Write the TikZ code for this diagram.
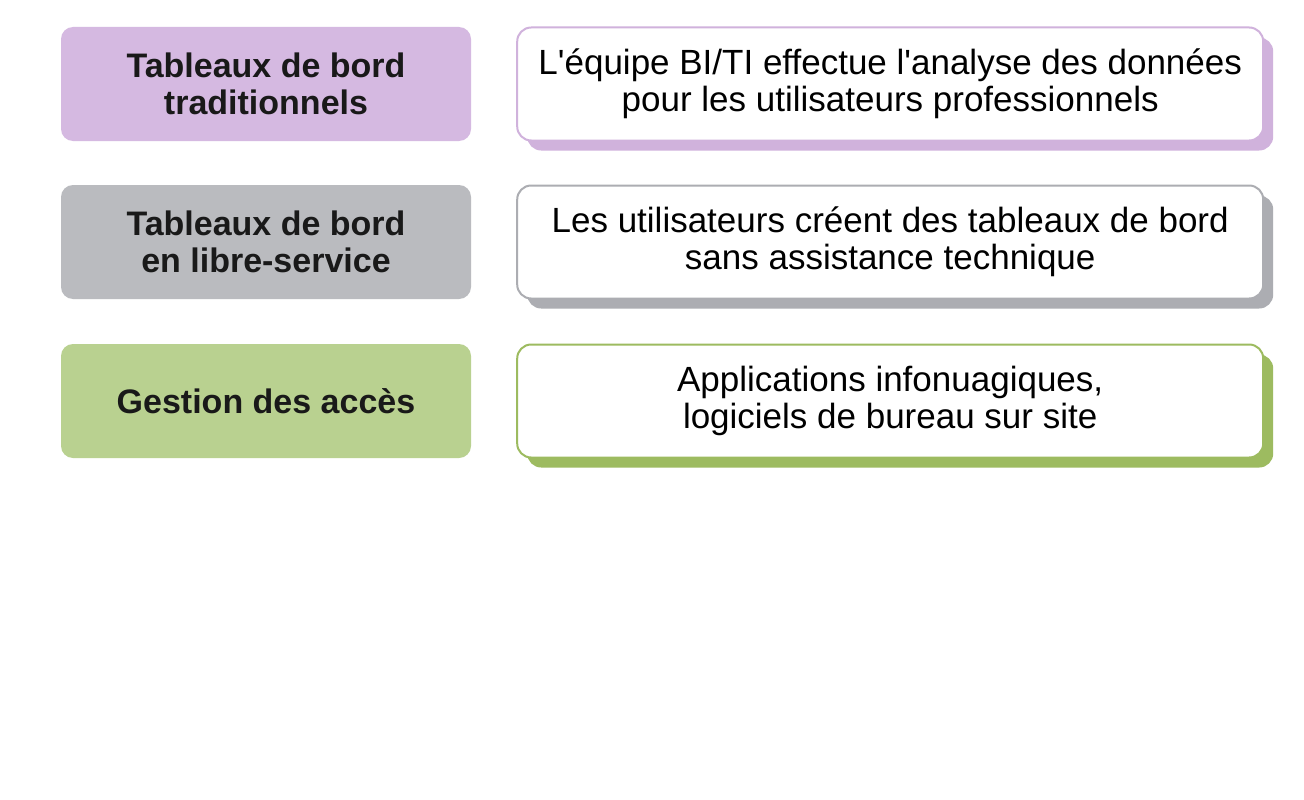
\documentclass[tikz,border=0pt]{standalone}
\usepackage{fontspec}
\newfontfamily\boxfont{Liberation Sans}
\usepackage{xcolor}
\usetikzlibrary{positioning,shadows}
\definecolor{lila}{HTML}{D5B9E1}
\definecolor{lilaedge}{HTML}{D0B2DC}
\definecolor{grau}{HTML}{BABBBF}
\definecolor{grauedge}{HTML}{ACADB2}
\definecolor{gruen}{HTML}{B9D190}
\definecolor{gruenedge}{HTML}{9DBB60}

\begin{document}
\begin{tikzpicture}[x=1pt,y=-1pt,node distance=45pt,
  cat/.style={rounded corners=12pt,align=center,minimum width=410pt,minimum height=114pt,
    font=\boxfont\fontsize{34}{37}\selectfont\bfseries,text=black!90},
  desc/.style={draw=#1,line width=2pt,fill=white,rounded corners=14pt,align=center,
    minimum width=746pt,minimum height=113pt,font=\boxfont\fontsize{35}{37}\selectfont,
    drop shadow={shadow xshift=10pt,shadow yshift=-10pt,fill=#1,opacity=1}}]
\useasboundingbox[fill=white] (0,0) rectangle (1304,800);
\node[cat,fill=lila] (trad) at (266,84) {Tableaux de bord\\traditionnels};
\node[desc=lilaedge, right=45pt of trad] (tradDesc) {L'équipe BI/TI effectue l'analyse des données\\pour les utilisateurs professionnels};
\node[cat,fill=grau] (self) at (266,242) {Tableaux de bord\\en libre-service};
\node[desc=grauedge, right=45pt of self] (selfDesc) {Les utilisateurs créent des tableaux de bord\\sans assistance technique};
\node[cat,fill=gruen] (acces) at (266,401) {Gestion des accès};
\node[desc=gruenedge, right=45pt of acces] (accesDesc) {Applications infonuagiques,\\logiciels de bureau sur site};
\end{tikzpicture}
\end{document}
